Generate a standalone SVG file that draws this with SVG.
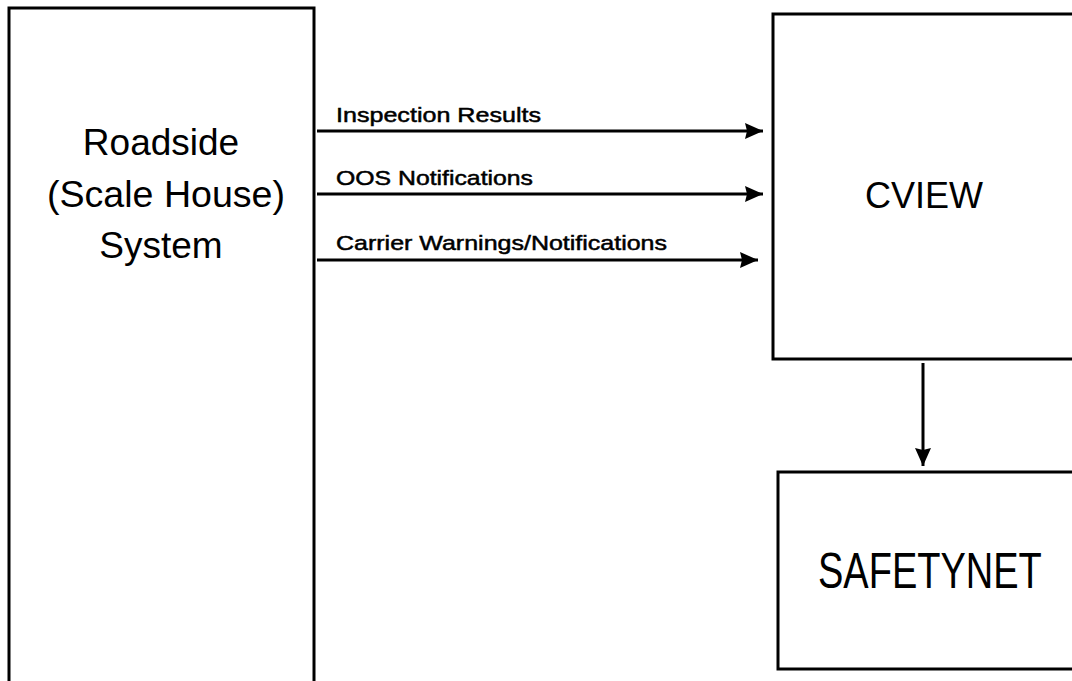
<svg xmlns="http://www.w3.org/2000/svg" width="1072" height="681" viewBox="0 0 1072 681">
<style>
.box{fill:#fff;stroke:#000;stroke-width:3}
.big{font-family:"Liberation Sans",Arial,sans-serif;font-size:37px;fill:#000}
.lbl{font-family:"Liberation Sans",Arial,sans-serif;font-size:21px;fill:#000;stroke:#000;stroke-width:0.5}
.conn{stroke:#000;stroke-width:3;fill:none}
</style>
<defs>
<marker id="ah" markerWidth="20" markerHeight="18" refX="18" refY="8" orient="auto" markerUnits="userSpaceOnUse">
<path d="M0,0 L18,8 L0,16 L2,8 Z" fill="#000"/>
</marker>
</defs>
<rect width="1072" height="681" fill="#fff"/>
<g id="roadside">
<rect class="box" x="9" y="8" width="305" height="700"/>
<text class="big" x="161" y="155" text-anchor="middle">Roadside</text>
<text class="big" x="166" y="207" text-anchor="middle" textLength="238" lengthAdjust="spacingAndGlyphs">(Scale House)</text>
<text class="big" x="161" y="258" text-anchor="middle">System</text>
</g>
<g id="cview">
<rect class="box" x="773" y="14" width="320" height="345"/>
<text class="big" x="924" y="208" text-anchor="middle" style="font-size:36px">CVIEW</text>
</g>
<g id="safetynet">
<rect class="box" x="778" y="472" width="320" height="197"/>
<text class="big" transform="translate(818,588) scale(1,1.3)" x="0" y="0" style="font-size:38px">SAFETYNET</text>
</g>
<g id="connectors">
<line class="conn" x1="317" y1="131" x2="763" y2="131" marker-end="url(#ah)"/>
<line class="conn" x1="317" y1="194" x2="763" y2="194" marker-end="url(#ah)"/>
<line class="conn" x1="317" y1="260" x2="758" y2="260" marker-end="url(#ah)"/>
<line class="conn" x1="923" y1="363" x2="923" y2="466" marker-end="url(#ah)"/>
</g>
<g id="labels">
<text class="lbl" x="336" y="122" textLength="205" lengthAdjust="spacingAndGlyphs">Inspection Results</text>
<text class="lbl" x="336" y="185" textLength="197" lengthAdjust="spacingAndGlyphs">OOS Notifications</text>
<text class="lbl" x="336" y="250" textLength="331" lengthAdjust="spacingAndGlyphs">Carrier Warnings/Notifications</text>
</g>
</svg>
